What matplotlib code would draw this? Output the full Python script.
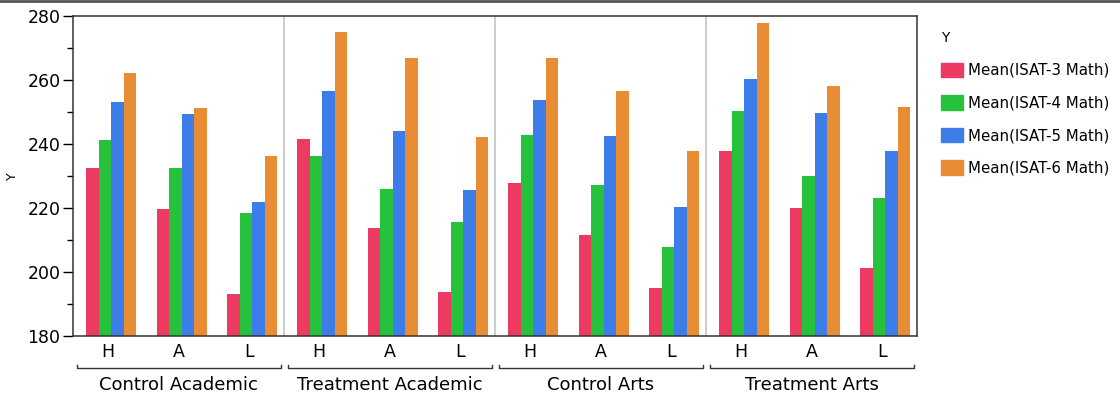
import matplotlib.pyplot as plt
import numpy as np
from matplotlib.lines import Line2D
from matplotlib.patches import Patch

groups = ['Control Academic', 'Treatment Academic', 'Control Arts', 'Treatment Arts']
levels = ['H', 'A', 'L']
series = ['Mean(ISAT-3 Math)', 'Mean(ISAT-4 Math)', 'Mean(ISAT-5 Math)', 'Mean(ISAT-6 Math)']
colors = ['#EC3A62', '#27C23C', '#3D7DEA', '#E98D35']

# one value per group/level, in order H, A, L for each group
isat3 = [232.5, 219.7, 193.1, 241.5, 213.8, 193.8, 227.7, 211.7, 195.1, 237.9, 219.9, 201.2]
isat4 = [241.2, 232.5, 218.3, 236.2, 226.0, 215.5, 242.8, 227.3, 207.7, 250.4, 230.1, 223.2]
isat5 = [253.1, 249.4, 221.8, 256.7, 244.1, 225.5, 253.7, 242.6, 220.4, 260.4, 249.6, 237.9]
isat6 = [262.3, 251.3, 236.3, 274.9, 267.0, 242.3, 267.0, 256.6, 237.8, 277.9, 258.2, 251.7]

fig = plt.figure(figsize=(11.2, 3.97), dpi=100)
ax = fig.add_axes([0.0652, 0.1537, 0.7536, 0.806])

x = np.arange(len(groups) * len(levels))
w = 0.178
for i, (vals, c) in enumerate(zip([isat3, isat4, isat5, isat6], colors)):
    ax.bar(x + (i - 1.5) * w + 0.045, np.array(vals) - 180, w, bottom=180, color=c, linewidth=0)

ax.set_ylim(180, 280)
ax.set_xlim(-0.5, len(x) - 0.5)
ax.set_yticks(np.arange(180, 281, 20))
ax.set_yticks(np.arange(190, 280, 20), minor=True)
ax.tick_params(axis='y', which='major', length=7, width=1, labelsize=12.5, pad=2)
ax.tick_params(axis='y', which='minor', length=4, width=1)
ax.set_xticks(x)
ax.set_xticklabels(levels * len(groups), fontsize=12.5)
ax.tick_params(axis='x', length=0, pad=5)
for s in ax.spines.values():
    s.set_linewidth(1.1)
    s.set_color('#333333')

# dividers between the groups
for g in range(1, len(groups)):
    ax.axvline(g * 3 - 0.5, color='#c8c8c8', lw=1.3)

# group brackets under the level labels
for g, name in enumerate(groups):
    x0 = g * 3 - 0.45
    x1 = g * 3 + 2.45
    trans = ax.get_xaxis_transform()
    ax.add_line(Line2D([x0, x0, x1, x1], [-0.09, -0.1, -0.1, -0.09], transform=trans,
                       color='#333333', lw=1, clip_on=False))
    ax.text(g * 3 + 1, -0.152, name, transform=trans, ha='center', va='center', fontsize=13)

ax.set_ylabel('Y', fontsize=9, labelpad=6)

handles = [Patch(color=c, label=s) for s, c in zip(series, colors)]
leg = fig.legend(handles=handles, title='Y', loc='upper left', bbox_to_anchor=(0.828, 0.955),
                 frameon=False, fontsize=10.8, title_fontsize=10, handlelength=1.5,
                 handleheight=1.1, handletextpad=0.3, labelspacing=1.15)
leg._legend_box.align = 'left'

# thin dark band along the top edge
fig.add_artist(Line2D([0, 1], [0.997, 0.997], transform=fig.transFigure, color='#555555', lw=2))

fig.savefig('out.png', dpi=100)
